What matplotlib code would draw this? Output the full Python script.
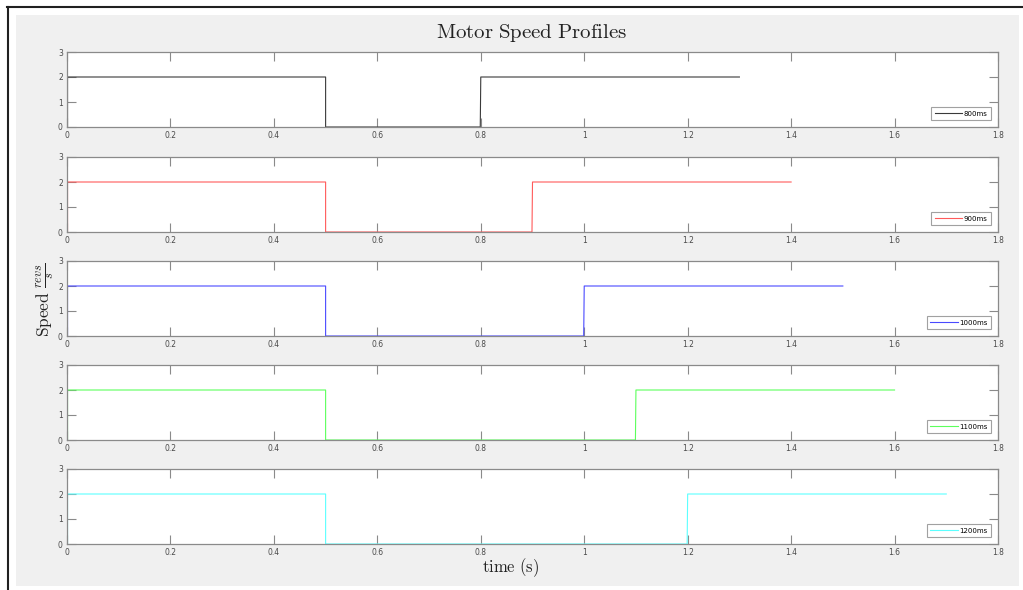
import matplotlib
matplotlib.use("Agg")
import matplotlib.pyplot as plt
from matplotlib.lines import Line2D
from matplotlib.patches import Rectangle

plt.rcParams["mathtext.fontset"] = "cm"

# profile data: every run is high from 0 to 0.5 s, off, then high again
labels = ["800ms", "900ms", "1000ms", "1100ms", "1200ms"]
colors = ["#3a3a3a", "#ff5a5a", "#4a4aff", "#5cff5c", "#5cffff"]
first_off = 0.5
rise_times = [0.8, 0.9, 1.0, 1.1, 1.2]
end_times = [1.3, 1.4, 1.5, 1.6, 1.7]
high_speed = 2

xticks = [0, 0.2, 0.4, 0.6, 0.8, 1, 1.2, 1.4, 1.6, 1.8]
xtick_labels = ["0", "0.2", "0.4", "0.6", "0.8", "1", "1.2", "1.4", "1.6", "1.8"]
yticks = [0, 1, 2, 3]

W, H = 1023, 590
fig = plt.figure(figsize=(W / 100, H / 100), dpi=100)
fig.patch.set_facecolor("white")

# matlab-ish grey window with the black frame at top/left
fig.add_artist(Rectangle((16 / W, 1 - 586 / H), (1019 - 16) / W, (586 - 15) / H,
                         transform=fig.transFigure, facecolor="#f0f0f0",
                         edgecolor="none", zorder=0))
fig.add_artist(Line2D([7 / W, 1], [1 - 7 / H, 1 - 7 / H], transform=fig.transFigure,
                      color="#202020", lw=1.5))
fig.add_artist(Line2D([8 / W, 8 / W], [1 - 7 / H, 0], transform=fig.transFigure,
                      color="#202020", lw=1.5))

axis_grey = "#8a8a8a"
tops = [52, 157, 261, 365, 469]
ax_h = 75
left, right = 67, 998

for i, lab in enumerate(labels):
    ax = fig.add_axes([left / W, 1 - (tops[i] + ax_h) / H, (right - left) / W, ax_h / H])
    ax.set_facecolor("white")
    t = [0, 0.001, 0.001, first_off, first_off, rise_times[i] - 0.001, rise_times[i], end_times[i]]
    v = [0, 0, high_speed, high_speed, 0, 0, high_speed, high_speed]
    ax.plot(t, v, color=colors[i], lw=0.8, label=lab)
    ax.set_xlim(0, 1.8)
    ax.set_ylim(0, 3)
    ax.set_xticks(xticks)
    ax.set_xticklabels(xtick_labels)
    ax.set_yticks(yticks)
    ax.tick_params(direction="in", length=6.5, width=0.8, color=axis_grey,
                   labelsize=5.5, labelcolor="#4a4a4a", top=True, right=True, pad=3)
    for sp in ax.spines.values():
        sp.set_color(axis_grey)
        sp.set_linewidth(0.9)
    leg = ax.legend(loc="lower right", fontsize=5, frameon=True, fancybox=False,
                    handlelength=4.0, borderpad=0.5, borderaxespad=1.0,
                    handletextpad=0.2)
    leg.get_frame().set_edgecolor(axis_grey)
    leg.get_frame().set_linewidth(0.8)

fig.text(532 / W, 1 - 33 / H, r"$\mathrm{Motor\ Speed\ Profiles}$", ha="center",
         va="center", fontsize=15, color="#222222")
fig.text(511 / W, 1 - 568 / H, r"$\mathrm{time\ (s)}$", ha="center", va="center",
         fontsize=12, color="#222222")
fig.text(45 / W, 1 - 300 / H, r"$\mathrm{Speed}\ \frac{revs}{s}$", ha="center",
         va="center", rotation=90, fontsize=12.5, color="#222222")

fig.savefig("out.png", dpi=100)
